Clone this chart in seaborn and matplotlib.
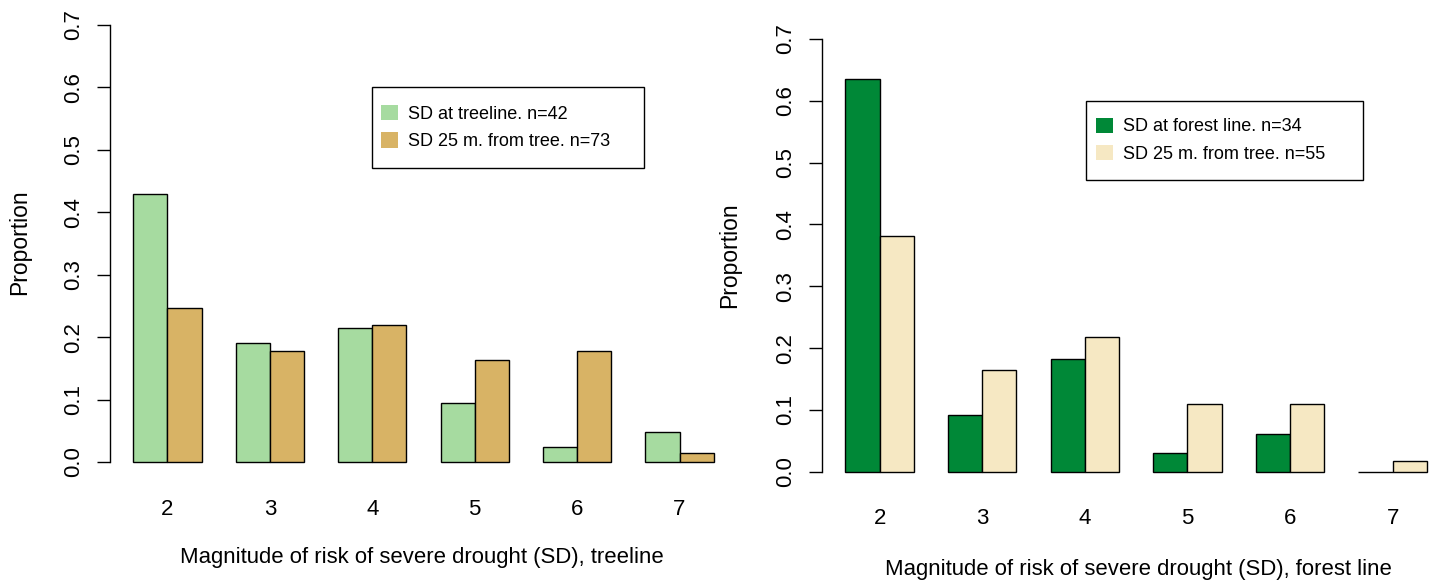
import numpy as np
import pandas as pd
import matplotlib
matplotlib.use("Agg")
import matplotlib.pyplot as plt
import seaborn as sns
from matplotlib.patches import Patch, Rectangle

# ---------------- data ----------------
categories = ["2", "3", "4", "5", "6", "7"]
treeline = [0.429, 0.190, 0.214, 0.095, 0.024, 0.048]
treeline_25m = [0.247, 0.178, 0.219, 0.164, 0.178, 0.014]
forest = [0.636, 0.091, 0.182, 0.030, 0.061, 0.0]
forest_25m = [0.382, 0.164, 0.218, 0.109, 0.109, 0.018]

left_labels = ["SD at treeline. n=42", "SD 25 m. from tree. n=73"]
right_labels = ["SD at forest line. n=34", "SD 25 m. from tree. n=55"]
left_colors = ["#a6dba0", "#d8b365"]
right_colors = ["#008837", "#f6e8c3"]
left_xlabel = "Magnitude of risk of severe drought (SD), treeline"
right_xlabel = "Magnitude of risk of severe drought (SD), forest line"
ylabel = "Proportion"
yticks = [0.0, 0.1, 0.2, 0.3, 0.4, 0.5, 0.6, 0.7]

sns.set_style("white")
plt.rcParams["font.family"] = ["Liberation Sans", "DejaVu Sans"]
plt.rcParams["text.color"] = "black"
plt.rcParams["xtick.color"] = "black"
plt.rcParams["ytick.color"] = "black"
plt.rcParams["axes.labelcolor"] = "black"

W, H = 1445, 584
fig = plt.figure(figsize=(W / 100, H / 100), dpi=100)


def px_axes(left, right, top, bottom):
    return fig.add_axes([left / W, 1 - bottom / H, (right - left) / W, (bottom - top) / H])


def fx(x):
    return x / W


def fy(y):
    return 1 - y / H


def panel(ax, a, b, labels, colors, xlim, ylim, xpad):
    df = pd.DataFrame({
        "cat": categories * 2,
        "val": list(a) + list(b),
        "series": [labels[0]] * len(categories) + [labels[1]] * len(categories),
    })
    sns.barplot(data=df, x="cat", y="val", hue="series", order=categories,
                hue_order=labels, palette=colors, width=2 / 3, gap=0,
                edgecolor="black", linewidth=1, errorbar=None, legend=False,
                saturation=1, ax=ax)
    ax.set_xlim(*xlim)
    ax.set_ylim(*ylim)
    ax.set_xlabel("")
    ax.set_ylabel("")
    for s in ["top", "right", "bottom"]:
        ax.spines[s].set_visible(False)
    ax.spines["left"].set_bounds(0, 0.7)
    ax.spines["left"].set_linewidth(1)
    ax.spines["left"].set_color("black")
    ax.set_yticks(yticks)
    ax.set_yticklabels([f"{t:.1f}" for t in yticks], rotation=90, va="center")
    ax.tick_params(axis="y", length=9.5, width=1, color="black", pad=9,
                   labelsize=16, left=True, labelcolor="black")
    ax.tick_params(axis="x", length=0, pad=xpad, labelsize=16, labelcolor="black")
    ax.patch.set_alpha(0)


axL = px_axes(110, 737, 7.5, 479.5)
panel(axL, treeline, treeline_25m, left_labels, left_colors,
      (-0.5615, 5.5615), (-0.028, 0.728), 13.9)

axR = px_axes(822, 1442, 21.7, 489)
panel(axR, forest, forest_25m, right_labels, right_colors,
      (-0.5615, -0.5615 + 620 / 102.6), (-0.028, 0.728), 13.5)

# axis titles
fig.text(fx(422), fy(557), left_xlabel, ha="center", va="center", fontsize=15.9)
fig.text(fx(1138), fy(569), right_xlabel, ha="center", va="center", fontsize=15.9)
fig.text(fx(20), fy(242), ylabel, ha="center", va="center", rotation=90, fontsize=16.5)
fig.text(fx(730), fy(255), ylabel, ha="center", va="center", rotation=90, fontsize=16.5)


def legend(ax, labels, colors, box, anchor):
    handles = [Patch(facecolor=c, edgecolor="none") for c in colors]
    ax.legend(handles, labels, loc="upper left",
              bbox_to_anchor=(fx(anchor[0]), fy(anchor[1])),
              bbox_transform=fig.transFigure, frameon=False, fontsize=13,
              handlelength=0.94, handleheight=0.94, handletextpad=0.55,
              labelspacing=0.51, borderpad=0, borderaxespad=0)
    l, t, r, b = box
    fig.add_artist(Rectangle((fx(l), fy(b)), (r - l) / W, (b - t) / H,
                             transform=fig.transFigure, fill=False,
                             edgecolor="black", linewidth=1))


legend(axL, left_labels, left_colors, (372, 87, 644, 168), (381, 105))
legend(axR, right_labels, right_colors, (1086, 101, 1363, 180), (1096, 117.5))

fig.savefig("out.png", dpi=100)
